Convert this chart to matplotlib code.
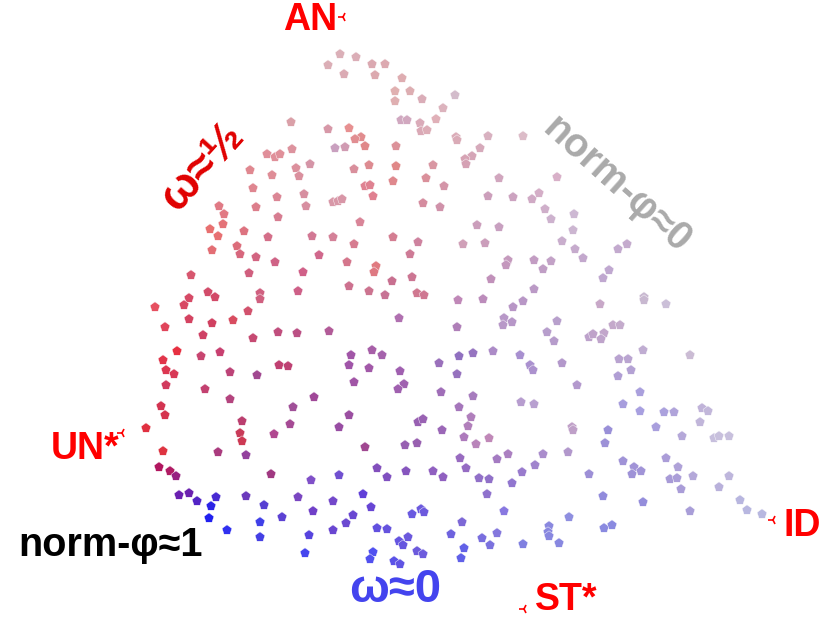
import numpy as np
import matplotlib.pyplot as plt
from matplotlib.colors import to_rgb

plt.rcParams['font.family'] = ['Liberation Sans', 'DejaVu Sans']

# projected positions of the sampled points (screen units, y grows downward)
pts = [
    (340,54),(356,57),(328,65),(344,74),(291,122),(328,129),(349,128),(361,137),(355,139),(335,148),
    (345,147),(292,149),(267,154),(275,157),(280,154),(310,164),(296,168),(299,176),(250,170),(272,175),
    (354,169),(253,188),(277,197),(304,194),(333,202),(338,201),(342,199),(256,207),(306,206),(219,206),
    (224,214),(223,224),(278,217),(360,222),(210,229),(244,231),
    (372,64),(385,64),(375,75),(402,78),(395,91),(410,91),(395,101),(422,99),(455,95),(443,108),
    (436,119),(401,120),(407,120),(420,123),(421,131),(427,130),(365,146),(396,146),(456,137),(457,140),
    (488,136),(523,136),(480,148),(472,156),(465,159),(466,164),(369,165),(396,166),(433,165),(365,186),
    (370,185),(393,181),(426,178),(444,186),(373,196),(499,178),(557,177),(488,196),(513,197),(532,199),
    (539,193),(545,209),(551,219),(574,214),(477,225),(499,227),(423,203),(440,207),
    (573,230),(575,249),(583,258),(618,249),(627,244),(609,270),(603,278),
    (218,236),(268,237),(312,236),(333,237),(354,244),(212,250),(237,246),(240,254),(256,257),(275,262),
    (319,255),(347,262),(191,275),(249,273),(303,272),(208,292),(215,297),(189,298),(184,305),(155,307),
    (260,293),(260,299),(298,291),(349,286),(248,311),(189,319),(212,323),(233,320),(165,327),(203,335),
    (253,338),(278,332),(297,333),(329,331),(177,351),(201,356),(220,352),(163,360),(166,370),(174,374),
    (230,372),(257,375),(279,365),(288,366),(351,355),(349,365),(354,382),(166,385),(205,389),(230,399),
    (314,397),
    (393,237),(418,242),(463,244),(485,243),(562,241),(410,254),(376,266),(374,272),(508,260),(506,265),
    (534,260),(551,261),(543,269),(412,277),(392,281),(491,279),(369,291),(385,295),(417,293),(424,295),
    (458,300),(483,299),(534,289),(523,301),(513,307),(399,318),(504,318),(503,325),(512,322),(457,327),
    (557,321),(547,332),(554,341),(372,350),(382,355),(473,353),(493,351),(459,356),(520,355),(439,363),
    (369,368),(400,371),(457,374),(530,365),(533,370),(562,363),(404,384),(398,389),(441,392),(473,396),
    (577,385),
    (644,297),(644,300),(666,304),(600,304),(613,325),(620,325),(589,337),(593,334),(604,333),(601,339),
    (643,350),(690,355),(619,359),(628,359),(631,370),(618,376),(640,392),(623,404),(640,411),(664,412),
    (674,412),(702,408),(708,411),(700,422),(656,427),(572,427),(573,430),(608,430),(605,443),(682,436),
    (714,438),(719,436),(729,436),(568,452),(623,461),(666,458),
    (161,406),(165,415),(293,407),(349,415),(146,428),(242,421),(290,424),(339,427),(240,433),(242,441),
    (274,434),(163,451),(218,452),(246,455),(159,467),(170,471),(176,476),(271,474),(311,480),(339,475),
    (179,495),(189,493),(197,501),(216,497),(246,496),(264,505),(298,497),(333,501),(211,506),(209,518),
    (313,511),(282,517),(353,515),(346,523),(227,530),(260,522),(260,537),(309,535),(333,530),(305,553),
    (521,402),(534,404),(459,407),(471,417),(418,422),(423,419),(468,426),(442,430),(464,437),(489,438),
    (365,447),(405,445),(417,443),(476,444),(460,458),(497,459),(508,454),(543,454),(535,465),(377,468),
    (387,477),(406,471),(433,471),(443,477),(466,468),(479,478),(489,479),(522,472),(512,483),(363,494),
    (487,494),(371,507),(412,514),(421,509),(424,512),(504,511),(569,517),(462,522),(377,528),(387,529),
    (451,534),(482,538),(497,533),(549,526),(548,532),(549,536),(559,543),(408,537),(399,541),(403,545),
    (490,545),(523,544),(464,548),(417,551),(423,554),(373,552),(370,559),(461,558),(394,561),(400,564),
    (589,474),(634,467),(632,474),(641,471),(678,467),(670,479),(677,478),(681,489),(693,476),(719,487),
    (729,476),(603,496),(643,502),(740,500),(747,510),(762,514),(690,511),(604,528),(612,525),
]
x = np.array([p[0] for p in pts], dtype=float)
y = np.array([p[1] for p in pts], dtype=float)

# colour at some reference spots (omega red->blue, norm-phi pale->strong)
ref_xy = [(340,54),(395,95),(455,95),(291,122),(275,157),(250,170),(219,206),(210,230),(155,307),
          (146,428),(163,451),(159,467),(179,495),(209,518),(227,530),(260,522),(313,511),(305,553),
          (373,552),(460,558),(523,544),(559,543),(612,525),(762,514),(729,436),(690,355),(666,304),
          (603,278),(574,214),(523,136),(557,177),(499,227),(463,244),(417,293),(376,266),(392,281),
          (458,300),(399,318),(503,325),(557,321),(520,355),(459,356),(400,371),(349,365),(303,272),
          (260,293),(233,320),(212,323),(201,356),(220,352),(177,351),(279,365),(257,375),(314,397),
          (293,407),(242,441),(274,434),(246,455),(271,474),(311,480),(339,475),(387,477),(443,477),
          (489,479),(412,514),(363,494),(504,511),(569,517),(608,430),(640,411),(489,438),(365,447),
          (417,443),(534,404),(571,426),(644,297),(600,304),(333,202),(335,148),(401,120),(436,119),
          (373,196),(365,146),(396,166),(350,128)]
ref_col = ['#dbb0b8','#e0b0b0','#d3bccb','#daa0a8','#e0909a','#e08890','#e07a85','#e87070','#e65060',
           '#e03040','#e03540','#b01560','#6a20b0','#2020f0','#3030f0','#4040e8','#7040c8','#4545ee',
           '#5050f0','#6060e8','#8080e0','#8888e0','#8a8ae0','#b8b8e0','#c8c0dd','#cbbcd4','#cbbfd8',
           '#c0a8d0','#cdb8d3','#dcbcc8','#d8b0c8','#c8a0c0','#d0a0b8','#d07890','#e07a80','#c87090',
           '#c088b8','#b070b0','#b898c8','#b8a0cc','#a890d0','#9070c0','#a060b0','#a055a8','#d06088',
           '#d06080','#d84c60','#d04060','#c84570','#c84070','#e83040','#c04070','#a04890','#a04898',
           '#a05098','#d03a50','#b04890','#9040a0','#a03880','#8050c8','#7050d0','#8050c0','#9060c0',
           '#9070c8','#6a5ae0','#6040d8','#8878e0','#8f8fe0','#9a90d8','#a8a0e0','#c088b8','#a04890',
           '#9860b0','#b8a0d0','#c0a0c8','#c8b8d0','#c8a8c8','#d898a8','#c8a0c0','#d0a8c0','#e0b0b8',
           '#e08090','#e08888','#e08888','#e89090']

rx = np.array([p[0] for p in ref_xy], dtype=float)
ry = np.array([p[1] for p in ref_xy], dtype=float)
rc = np.array([to_rgb(c) for c in ref_col])
d2 = (x[:, None] - rx[None, :])**2 + (y[:, None] - ry[None, :])**2
w = 1.0 / (d2 + 30.0)**1.5
colors = np.clip((w @ rc) / w.sum(axis=1)[:, None], 0, 1)

# corner labels
corner_names = ['AN', 'UN*', 'ST*', 'ID']
corner_xy = [(343,17), (122,433), (524,609), (773,520)]
corner_text_xy = [(310,20), (85,449), (566,600), (802,526)]

fig = plt.figure(figsize=(8.3, 6.23), dpi=100)
ax = fig.add_axes([0, 0, 1, 1])
ax.set_xlim(0, 830)
ax.set_ylim(623, 0)
ax.axis('off')

ax.scatter(x, y, s=56, marker='p', c=colors, edgecolors='white', linewidths=0.3, zorder=2)

for name, (mx, my), (tx, ty) in zip(corner_names, corner_xy, corner_text_xy):
    ax.plot(mx, my, marker='3', color='red', markersize=7, mew=1.2, zorder=3)
    ax.text(tx, ty, name, color='red', fontsize=27, fontweight='bold', ha='center', va='center')

ax.text(202, 167, 'ω≈½', color='#e00000', fontsize=33, fontweight='bold', rotation=48,
        ha='center', va='center', rotation_mode='anchor')
ax.text(617, 185, 'norm-φ≈0', color='#aaaaaa', fontsize=28.5, fontweight='bold', rotation=-42,
        ha='center', va='center', rotation_mode='anchor')
ax.text(110, 545, 'norm-φ≈1', color='black', fontsize=28.5, fontweight='bold', ha='center', va='center')
ax.text(395, 590, 'ω≈0', color='#4444ee', fontsize=34, fontweight='bold', ha='center', va='center')

fig.savefig('out.png', dpi=100)
